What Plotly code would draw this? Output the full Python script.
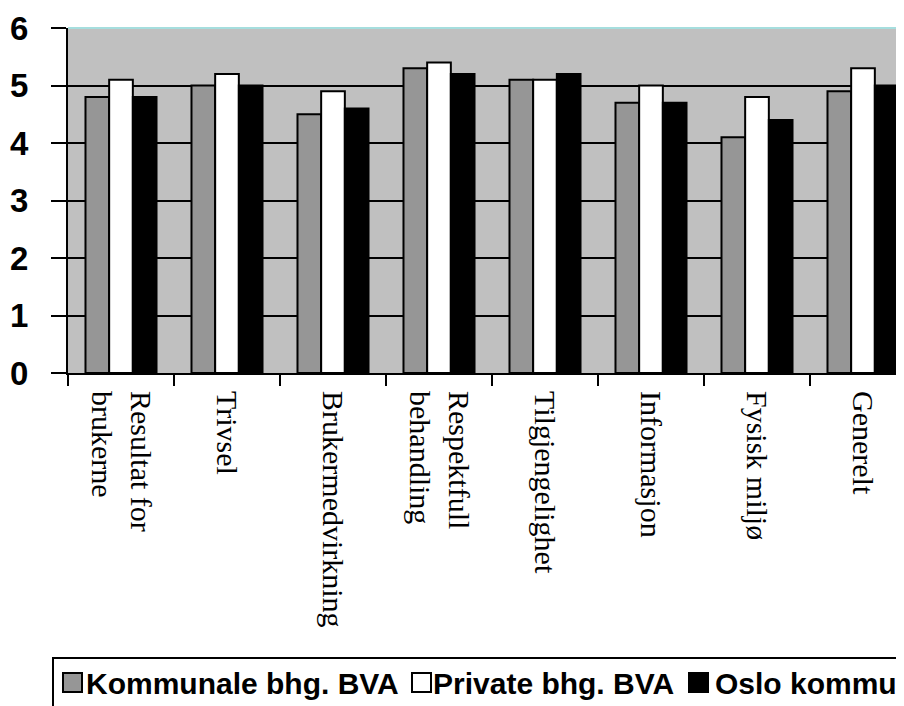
import plotly.graph_objects as go

categories = ["Resultat for<br>brukerne", "Trivsel", "Brukermedvirkning", "Respektfull<br>behandling",
              "Tilgjengelighet", "Informasjon", "Fysisk miljø", "Generelt"]
series_names = ["Kommunale bhg. BVA", "Private bhg. BVA", "Oslo kommune"]
kommunale = [4.8, 5.0, 4.5, 5.3, 5.1, 4.7, 4.1, 4.9]
private = [5.1, 5.2, 4.9, 5.4, 5.1, 5.0, 4.8, 5.3]
oslo = [4.8, 5.0, 4.6, 5.2, 5.2, 4.7, 4.4, 5.0]
y_ticks = [0, 1, 2, 3, 4, 5, 6]

colors = ["#969696", "#FFFFFF", "#000000"]
values = [kommunale, private, oslo]

# page is offset by the default 8px body margin
OFF = 8
W, H = 904 - OFF, 706 - OFF
L, T, B = 68 - OFF, 28 - OFF, 373 - OFF
PW, PH = W - L, B - T


def px(x):
    return (x - OFF - L) / PW


def py(y):
    return (B - (y - OFF)) / PH


fig = go.Figure()
for name, vals, col in zip(series_names, values, colors):
    fig.add_trace(go.Bar(
        x=categories, y=vals, name=name,
        marker=dict(color=col, line=dict(color="#000000", width=2)),
        showlegend=False,
    ))

cat_w = 106
fig.update_layout(
    width=W, height=H,
    margin=dict(l=L, r=0, t=T, b=H - B, pad=0),
    paper_bgcolor="#FFFFFF", plot_bgcolor="#C0C0C0",
    barmode="group", bargap=0.33, bargroupgap=0,
    xaxis=dict(
        range=[-0.5, -0.5 + PW / cat_w],
        tickangle=90, tickson="boundaries",
        ticks="outside", ticklen=11, tickwidth=2, tickcolor="#000000",
        showline=True, linecolor="#000000", linewidth=2,
        showgrid=False, zeroline=False,
        tickfont=dict(family="Liberation Serif", size=30, color="#000000"),
        ticklabelstandoff=10,
    ),
    yaxis=dict(
        range=[0, 6], tickvals=y_ticks,
        ticks="outside", ticklen=15, tickwidth=2, tickcolor="#000000",
        showline=True, linecolor="#000000", linewidth=2,
        showgrid=True, gridcolor="#000000", gridwidth=2,
        zeroline=False,
        tickfont=dict(family="Liberation Sans", size=33, color="#000000", weight="bold"),
        ticklabelstandoff=16,
    ),
)

# top border of plot area
fig.add_shape(type="line", xref="paper", yref="paper", x0=0, x1=1.02, y0=1, y1=1,
              line=dict(color="#A6DEDE", width=2), layer="above")

# legend box (extends beyond visible area)
fig.add_shape(type="rect", xref="paper", yref="paper",
              x0=px(53), x1=px(1000), y0=py(658), y1=py(760),
              line=dict(color="#000000", width=2), fillcolor="rgba(0,0,0,0)", layer="above")

legend_items = [(63, 84), (412, 431), (689, 713)]
for (sq_x, tx), name, col in zip(legend_items, series_names, colors):
    fig.add_shape(type="rect", xref="paper", yref="paper",
                  x0=px(sq_x), x1=px(sq_x + 19), y0=py(692), y1=py(673),
                  line=dict(color="#000000", width=2), fillcolor=col, layer="above")
    fig.add_annotation(x=px(tx), y=py(683), xref="paper", yref="paper",
                       xanchor="left", yanchor="middle", showarrow=False, text=name,
                       font=dict(family="Liberation Sans", size=30, color="#000000", weight="bold"))

fig.write_html("out.html")
